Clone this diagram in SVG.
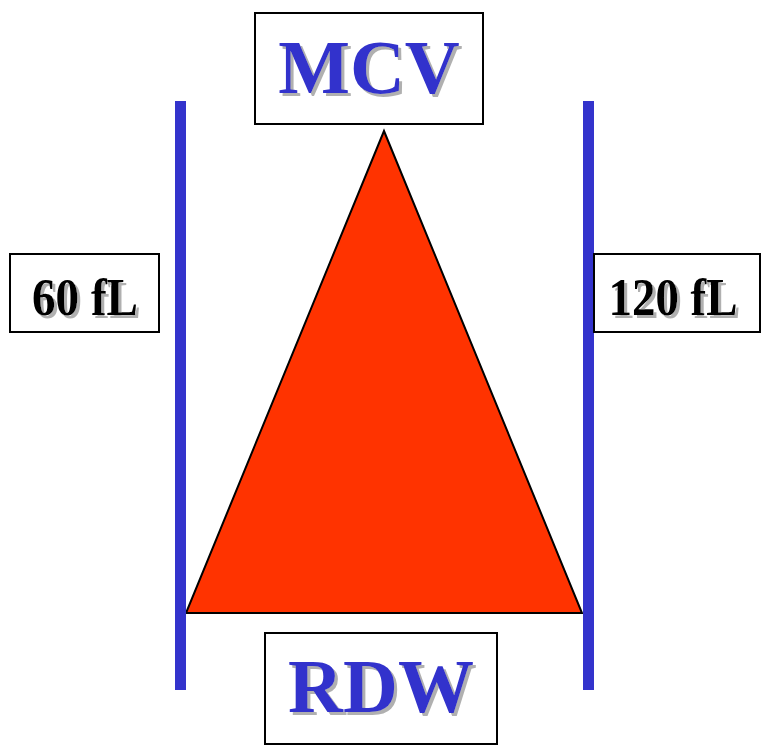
<svg xmlns="http://www.w3.org/2000/svg" width="764" height="747" viewBox="0 0 764 747">
<defs>
<filter id="shadow" x="-10%" y="-10%" width="130%" height="130%">
<feOffset in="SourceAlpha" dx="3" dy="3" result="off"/>
<feFlood flood-color="#b0b0b0" result="col"/>
<feComposite in="col" in2="off" operator="in" result="sh"/>
<feMerge><feMergeNode in="sh"/><feMergeNode in="SourceGraphic"/></feMerge>
</filter>
</defs>
<style>
.box{fill:#fff;stroke:#000;stroke-width:2}
.big{font-family:"Liberation Serif",serif;font-weight:bold;font-size:76px;text-anchor:middle;fill:#3333cc;filter:url(#shadow)}
.small{font-family:"Liberation Serif",serif;font-weight:bold;font-size:52px;text-anchor:middle;fill:#000;filter:url(#shadow)}
.bar{fill:#3333cc}
</style>
<rect width="764" height="747" fill="#fff"/>
<g id="triangle">
<polygon points="384,131 186,613 582,613" fill="#ff3300" stroke="#000" stroke-width="2"/>
</g>
<g id="connectors">
<rect class="bar" x="175" y="101" width="11" height="589"/>
<rect class="bar" x="583" y="101" width="11" height="589"/>
</g>
<g id="mcv">
<rect class="box" x="255" y="13" width="228" height="111"/>
<text class="big" x="369" y="93">MCV</text>
</g>
<g id="rdw">
<rect class="box" x="265" y="633" width="232" height="111"/>
<text class="big" x="381" y="712">RDW</text>
</g>
<g id="left">
<rect class="box" x="10" y="254" width="149" height="78"/>
<text class="small" x="85" y="315" textLength="106" lengthAdjust="spacingAndGlyphs">60 fL</text>
</g>
<g id="right">
<rect class="box" x="594" y="254" width="166" height="78"/>
<text class="small" x="673" y="315" textLength="129" lengthAdjust="spacingAndGlyphs">120 fL</text>
</g>
</svg>
